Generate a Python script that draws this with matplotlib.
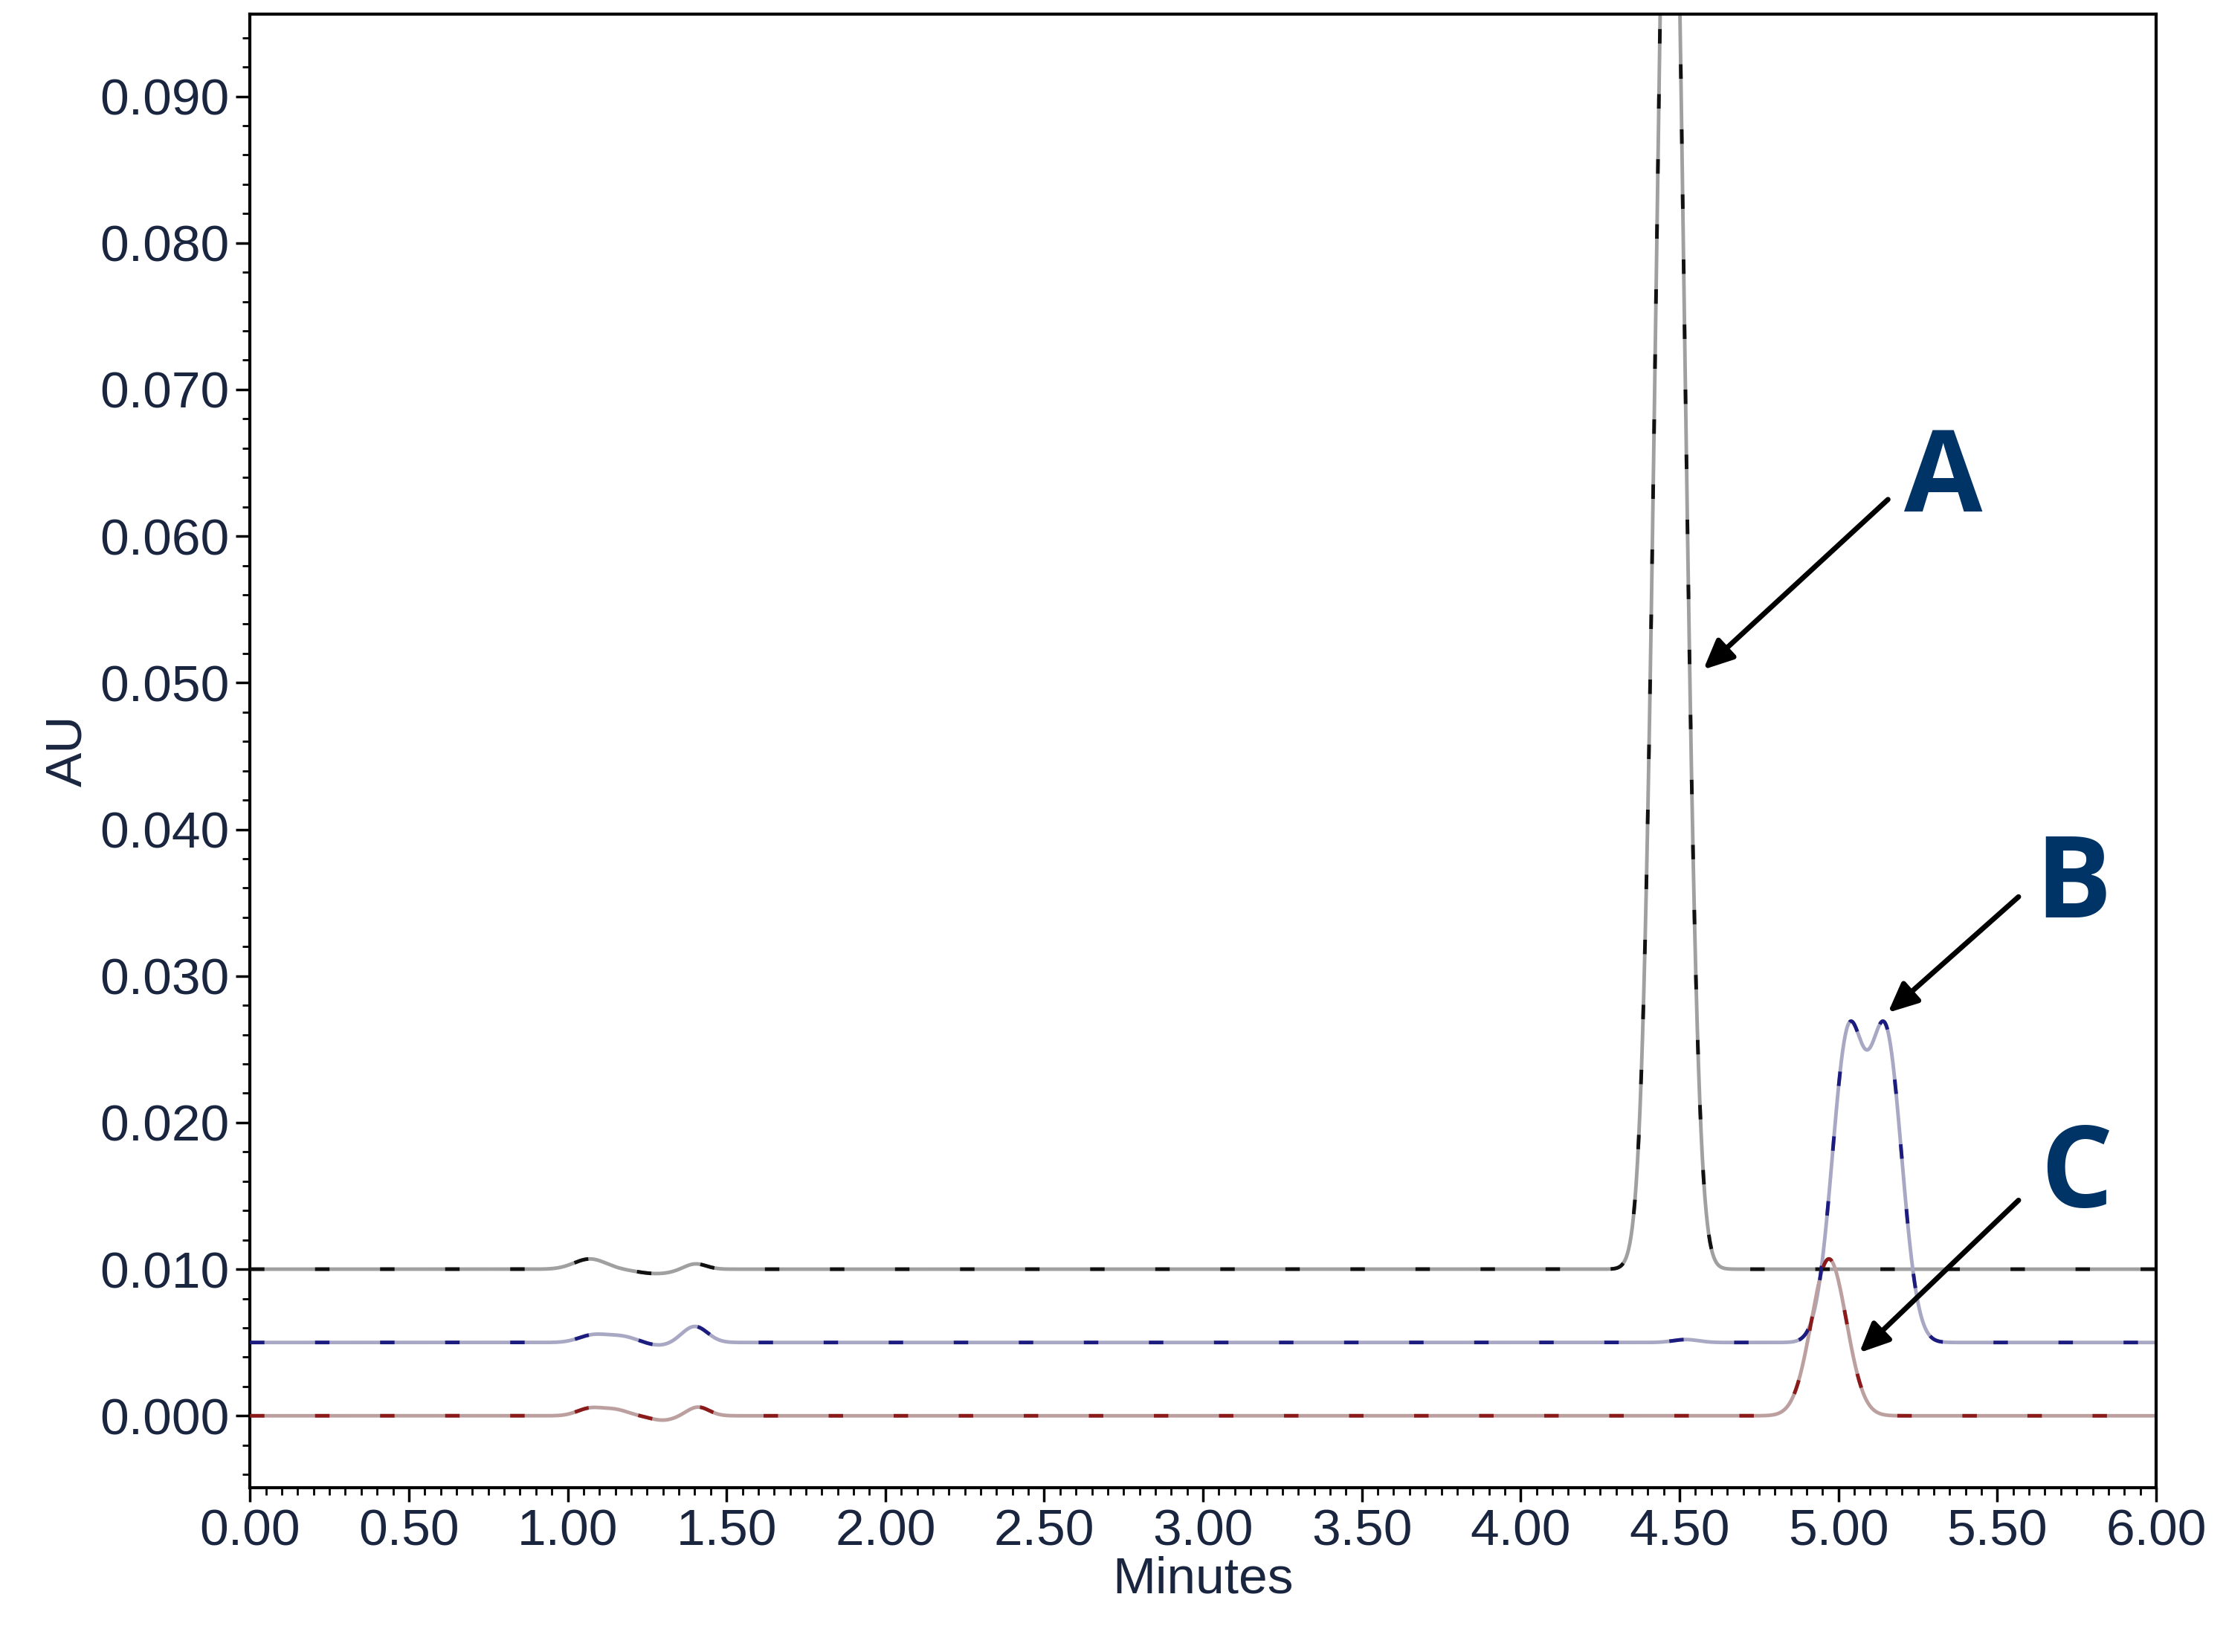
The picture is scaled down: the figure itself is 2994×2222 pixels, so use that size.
import numpy as np
import matplotlib
matplotlib.use("Agg")
import matplotlib.pyplot as plt
from matplotlib.ticker import MultipleLocator, FormatStrFormatter

# Peak tables (retention time, height, width sigma)
baselines = [0.010, 0.005, 0.000]
rt_A = [1.07, 1.28, 1.40, 4.47]
h_A = [0.0007, -0.0003, 0.0004, 0.110]
w_A = [0.05, 0.06, 0.035, 0.044]
rt_B = [1.08, 1.17, 1.29, 1.40, 4.52, 5.03, 5.15]
h_B = [0.0005, 0.0004, -0.0002, 0.0011, 0.0002, 0.0205, 0.0205]
w_B = [0.045, 0.045, 0.04, 0.04, 0.04, 0.05, 0.05]
rt_C = [1.07, 1.15, 1.30, 1.41, 4.97]
h_C = [0.0005, 0.0004, -0.0003, 0.0006, 0.0107]
w_C = [0.04, 0.04, 0.04, 0.035, 0.055]
labels = ["A", "B", "C"]
label_pos = [(5.33, 0.0637), (5.74, 0.0360), (5.75, 0.0162)]
arrow_from = [(5.156, 0.0625), (5.567, 0.0354), (5.567, 0.0147)]
arrow_to = [(4.575, 0.0509), (5.156, 0.0275), (5.066, 0.0043)]

t = np.linspace(0, 6, 3000)
def trace(base, rts, hs, ws):
    y = np.full_like(t, base)
    for r, h, w in zip(rts, hs, ws):
        y += h * np.exp(-0.5 * ((t - r) / w) ** 2)
    return y

fig = plt.figure(figsize=(29.94, 22.22), dpi=100)
ax = fig.add_axes([0.1123, 0.0995, 0.8563, 0.8919])

series = [(rt_A, h_A, w_A, "#a0a0a0", "#111111"),
          (rt_B, h_B, w_B, "#a8a8c4", "#1c1c80"),
          (rt_C, h_C, w_C, "#bca0a0", "#8b1a1a")]
for base, (r, h, w, c1, c2) in zip(baselines, series):
    y = trace(base, r, h, w)
    ax.plot(t, y, color=c1, lw=3.5, zorder=2)
    ax.plot(t, y, color=c2, lw=3.5, dashes=(4, 14), zorder=3)

for lab, lp, af, at in zip(labels, label_pos, arrow_from, arrow_to):
    ax.annotate("", xy=at, xytext=af,
                arrowprops=dict(arrowstyle="-|>,head_length=2.4,head_width=1.1",
                                color="black", lw=5, shrinkA=0, shrinkB=0))
    ax.text(lp[0], lp[1], lab, fontsize=110, fontweight="bold", color="#003366",
            family=["Open Sans", "DejaVu Sans"], ha="center", va="center")

ax.set_xlim(0, 6)
ax.set_ylim(-0.0049, 0.0956)
ax.xaxis.set_major_locator(MultipleLocator(0.5))
ax.xaxis.set_minor_locator(MultipleLocator(0.05))
ax.yaxis.set_major_locator(MultipleLocator(0.01))
ax.yaxis.set_minor_locator(MultipleLocator(0.002))
ax.xaxis.set_major_formatter(FormatStrFormatter("%.2f"))
ax.yaxis.set_major_formatter(FormatStrFormatter("%.3f"))
tc = "#1a2540"
plt.setp(ax.get_xticklabels() + ax.get_yticklabels(), family="Liberation Sans")
ax.tick_params(which="major", length=14, width=2.5, labelsize=50, labelcolor=tc, pad=6)
ax.tick_params(which="minor", length=7, width=2)
for lbl in ax.get_xticklabels() + ax.get_yticklabels():
    lbl.set_family("Liberation Sans")
for s in ax.spines.values():
    s.set_linewidth(3)
ax.set_xlabel("Minutes", fontsize=50, color=tc, labelpad=0, family="Liberation Sans")
ax.set_ylabel("AU", fontsize=50, color=tc, labelpad=8, family="Liberation Sans")
fig.savefig("out.png", dpi=100)
